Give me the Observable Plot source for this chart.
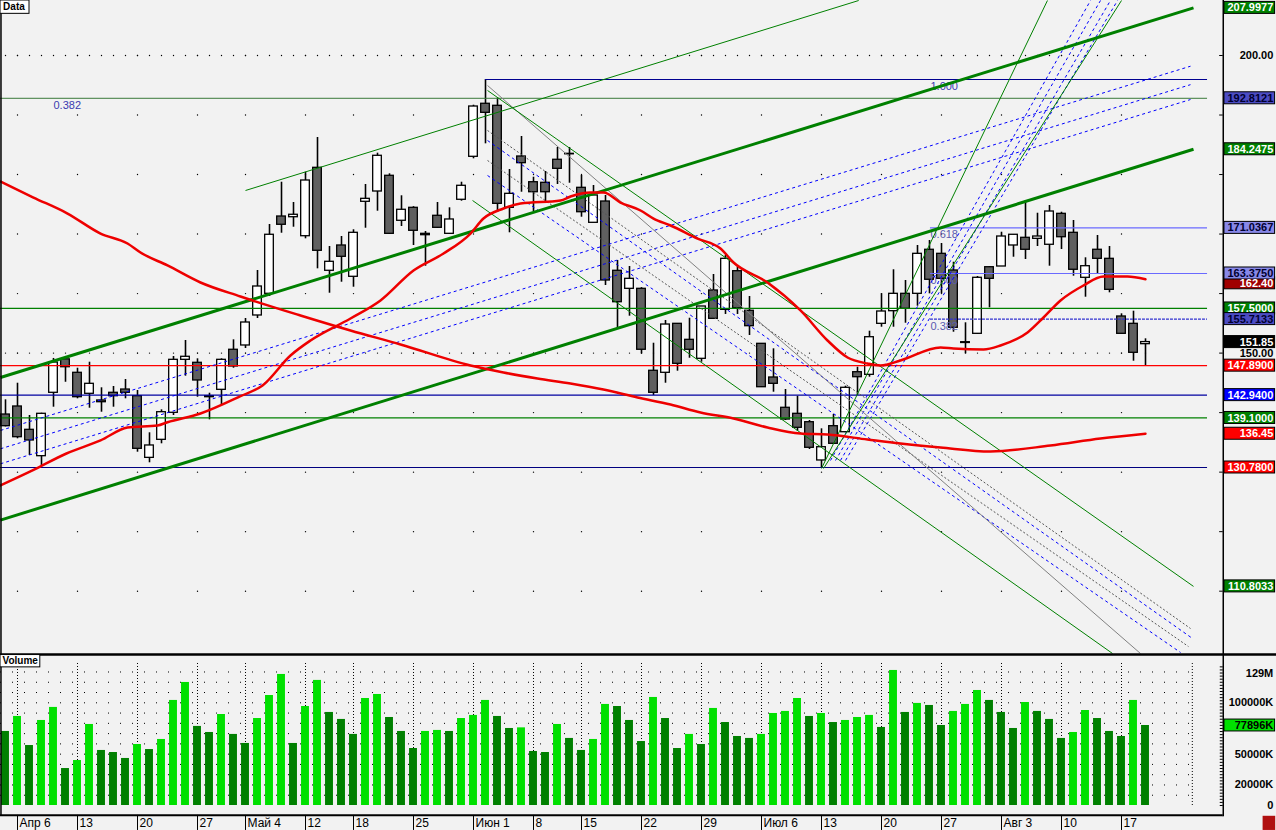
<!DOCTYPE html>
<html>
<head>
<meta charset="utf-8">
<script src="https://cdn.jsdelivr.net/npm/d3@7"></script>
<script src="https://cdn.jsdelivr.net/npm/@observablehq/plot@0.6"></script>
<style>
  html, body { margin: 0; padding: 0; background: #f2f2f2; }
  #chart { width: 1276px; height: 830px; overflow: hidden; }
  #chart svg { display: block; }
</style>
</head>
<body>
<div id="chart"></div>
<script>
// ---------------- DATA ----------------
// daily sessions, index 0 = Apr 3 ... 95 = Aug 19
const openP = [139.68,141.03,137.11,132.68,143.33,148.95,146.69,143.16,142.04,143.33,
143.88,142.76,132.4,135.43,139.97,148.87,148.37,142.76,143.83,150.56,
151.28,156.32,159.96,172.95,172.83,169.64,181.13,163.83,168.08,162.82,
175.42,177.15,179.79,172.23,174.41,170.04,173.07,170.04,175.76,182.98,
191.89,191.55,174.41,183.03,178.71,178.61,182.48,183.48,177.77,171.89,
175.47,163.83,160.8,160.8,147.03,146.69,154.92,152.23,149.04,160.52,
157.27,163.76,157.11,151.56,145.9,140.81,139.8,138.39,131.96,137.72,
136.71,146.79,146.35,154.92,157.04,159.96,159.96,167.36,166.68,163.88,
151.83,153.24,164.43,164.55,168.08,169.37,169.2,168.2,173.4,170.21,
162.65,167.36,165.84,156.15,154.92,151.5];
const highP = [142.15,144.94,139.52,139.9,149.1,149.1,147.46,148.47,144.17,144.39,
145.56,143.72,136.61,140.47,149.43,152.12,149.04,143.26,149.04,152.23,
155.81,163.88,171.61,178.71,175.3,180.39,186.22,167.91,169.59,170.72,
178.33,183.59,180.12,176.43,174.6,170.43,175.3,174.41,178.71,191.65,
195.97,192.83,180.85,186.39,179.55,180.51,184.54,184.54,179.84,178.16,
176.48,165.56,164.55,161.0,151.66,155.48,154.97,155.86,157.83,163.21,
166.4,164.43,159.51,151.61,150.72,143.88,142.76,138.68,137.28,139.68,
144.44,147.63,153.68,159.96,164.0,162.2,168.08,168.92,168.41,165.27,
155.09,162.87,164.55,170.31,169.93,175.64,173.5,174.8,173.67,172.28,
166.01,169.76,167.91,156.6,157.04,152.4];
const lowP = [137.6,135.6,132.8,131.12,140.91,145.1,142.32,140.74,140.07,140.91,
142.32,133.35,131.57,134.76,139.52,146.12,142.59,138.79,141.36,147.46,
150.77,155.81,159.51,170.14,171.15,169.2,164.16,160.06,161.91,161.07,
170.98,173.84,169.93,171.27,168.08,164.6,170.93,169.93,175.52,182.64,
185.16,173.67,170.21,177.03,173.79,175.35,178.33,178.54,172.83,171.89,
161.36,154.18,156.2,149.88,142.88,144.94,146.96,149.14,148.47,155.76,
156.49,156.49,152.96,144.22,143.43,138.68,136.88,133.8,130.78,134.64,
136.61,142.88,145.95,154.35,154.35,155.02,157.88,159.96,159.96,153.51,
149.88,153.13,157.61,164.55,166.11,165.73,167.91,164.6,167.41,162.92,
159.39,163.21,160.13,153.24,148.64,147.92];
const closeP = [137.72,135.87,135.32,139.8,148.42,147.63,142.59,144.84,141.75,142.76,
143.33,133.92,134.48,140.07,148.87,149.38,145.4,142.59,148.87,147.75,
155.14,161.19,169.88,171.56,173.24,179.0,167.19,165.34,166.18,170.21,
175.92,183.15,170.04,174.08,170.55,169.81,171.05,172.45,178.11,191.43,
190.37,175.08,176.76,181.91,177.03,177.03,180.96,183.4,173.67,176.48,
162.2,158.55,162.48,150.56,143.33,154.8,148.2,150.56,157.83,155.76,
165.84,157.54,154.52,144.27,144.84,138.84,137.45,134.09,134.19,134.76,
144.17,145.95,152.67,156.99,159.96,157.44,166.68,162.32,162.48,154.25,
151.7,162.65,162.48,169.59,169.88,167.36,169.59,173.79,169.47,164.0,
164.6,165.84,160.63,153.24,150.05,151.85];
// volume, millions
const volumeM = [72.1,86.7,58.4,82.8,95.5,36.0,43.8,78.9,53.6,51.6,
45.8,59.4,54.5,64.3,102.3,119.8,77.0,71.1,88.6,69.2,
60.4,84.7,107.1,127.6,60.4,96.4,121.8,90.6,83.8,69.2,
104.2,108.1,85.7,72.1,55.5,72.1,73.1,72.1,84.7,87.7,
102.3,86.7,75.0,75.6,52.6,51.6,78.9,65.3,53.6,64.3,
98.4,96.4,82.8,62.3,105.2,84.7,55.5,69.2,59.4,94.5,
80.8,67.2,65.3,69.2,89.6,91.6,104.2,86.7,89.6,80.8,
82.8,85.7,87.7,76.0,131.5,90.6,99.4,97.4,77.9,91.6,
98.4,112.0,102.3,90.6,75.0,100.3,91.6,83.8,65.3,71.1,
92.5,84.7,72.1,67.2,102.3,77.896];

// moving averages: [session, price]
const maFast = [[-0.42,127.76],[2.25,130.28],[5.08,133.13],[7.92,135.32],[10.17,137.5],[12.67,137.84],[13.5,138.39],[16.25,139.85],[19.58,142.76],[21.42,144.56],[23.75,149.6],[25.42,152.12],[28.75,155.81],[31.25,158.84],[34,163.88],[36.5,166.73],[38.75,170.09],[39.83,172.61],[41.5,174.29],[42.92,175.13],[46.25,175.64],[47.08,176.31],[48.75,176.98],[49.83,176.98],[51.25,175.3],[52.92,173.96],[54,172.61],[55.42,171.44],[57.67,169.25],[59.58,167.57],[60.67,165.22],[63.5,161.86],[66.25,157.16],[68.5,152.12],[70.17,149.26],[71.83,148.25],[72.92,147.92],[74.58,148.76],[77.92,150.94],[79,150.77],[81.5,150.6],[82.92,151.28],[85.17,153.46],[86.5,155.98],[87.92,158.84],[89.83,161.36],[91.5,162.87],[93.5,162.87],[95,162.40]];
const maSlow = [[-0.42,178.83],[2.33,176.14],[5.17,173.45],[7.92,170.09],[10.17,168.41],[11.25,166.9],[13.5,164.72],[16.25,161.86],[19.58,159.51],[24.58,156.32],[28.75,153.8],[32.92,151.45],[38.75,147.92],[41.5,146.74],[44.33,145.73],[47.08,144.89],[49.83,143.88],[52.67,142.54],[55.42,141.36],[57.92,140.02],[60.67,139.01],[63.5,137.5],[66.25,136.49],[68.5,136.32],[71.83,135.48],[74.58,134.81],[77.92,134.14],[82.08,133.47],[87.08,134.48],[91.25,135.65],[95,136.45]];

// drawn studies: [session1, price1, session2, price2]
const channelThick = [[-0.42,145.9,99.0,207.9977],[-0.42,121.94,99.0,184.2475]];
const greenThin = [[20,177.32,71.1,209.24],[40.17,194.12,99.0,110.8033],[38.92,175.64,92.25,99.53],[68.0,130.61,86.83,209.24],[68.17,130.61,93.0,209.24]];
const grayThin = [[40.17,194.96,94.58,99.53]];
const blueDashUp = [[-0.42,137.0,98.75,198.2],[-0.42,133.92,98.75,195.1],[-0.42,131.40,98.75,192.6]];
const grayDashDown = [[40.17,187.4,98.75,103.73],[40.17,182.36,98.58,100.7]];
const blueDashDown = [[40.17,185.72,98.92,102.05],[40.17,179.84,97.92,99.7]];
const blueDashFan = [[68.75,131.96,90.42,209.24],[69.17,131.96,91.25,209.24],[69.58,131.96,92.08,209.24],[70,131.96,92.67,209.24]];

// horizontal levels
const hLevels = [157.5, 147.89, 142.94, 139.1, 130.78];
const fibTop = 195.97;
const fibLeftLevel = 192.8121;
const fibLevels = [171.0367, 163.375, 155.7133];
const fibTexts = ["0.618", "0.500", "0.382"];

// right axis labels
const priceLabelVals = [207.9977, 200, 192.8121, 184.2475, 171.0367, 162.40, 163.375, 157.5, 155.7133, 151.85, 150, 147.89, 142.94, 139.1, 136.45, 130.78, 110.8033];
const priceLabelTexts = ["207.9977","200.00","192.8121","184.2475","171.0367","162.40","163.3750","157.5000","155.7133","151.85","150.00","147.8900","142.9400","139.1000","136.45","130.7800","110.8033"];
const priceTicks = d3.range(110, 201, 10);
const volLabelVals = [129, 100, 77.896, 50, 20, 0];
const volLabelTexts = ["129M", "100000K", "77896K", "50000K", "20000K", "0"];

// date axis
const tickSessions = [1,6,11,16,20,25,29,34,39,44,48,53,58,63,68,73,78,83,88,93];
const tickLabels = ["Апр 6","13","20","27","Май 4","12","18","25","Июн 1","8","15","22","29","Июл 6","13","20","27","Авг 3","10","17"];

// ---------------- STYLE / LAYOUT ----------------
const W = 1276, H1 = 653, H2 = 177;
const PX_PER_UNIT = 5.952;
const xDomain = [-5/12, (W - 5)/12];
const priceDomain = [99.529, 209.2406];
const volDomain = [-24.343, 148.004];
const AXIS_K = 101.48, END_K = 100.17, BOX_K1 = 101.58, BOX_K2 = 105.8;
const labelBg = ["#008000", null, "#4c4cc4", "#008000", "#8888e8", "#a00000", "#8888e8", "#008000", "#4c4cc4", "#000000", null, "#ff0000", "#0000ff", "#008000", "#ff0000", "#ff0000", "#008000"];
const labelFg = ["#fff", "#000", "#000030", "#fff", "#000030", "#fff", "#000030", "#fff", "#000030", "#fff", "#000", "#fff", "#fff", "#fff", "#fff", "#fff", "#fff"];
// vertical pixel offset of box/text (the 162.40 box sits just under 163.3750)
const labelShift = [0, 0, 0, 0, 0, 4, 0, 0, 0, 0, 0, 0, 0, 0, 0, 0, 0];
const hColors = ["#008000", "#ff0000", "#0000a0", "#008000", "#000080"];
const FONT = "Liberation Sans, Arial, sans-serif";

const candles = openP.map((o, i) => ({i, o, h: highP[i], l: lowP[i], c: closeP[i]}));
const vols = volumeM.map((v, i) => ({i, v, up: i > 0 && v > volumeM[i - 1]}));
const segs = a => a.map(([k1, p1, k2, p2]) => ({k1, p1, k2, p2}));
const pts = a => a.map(([k, p]) => ({k, p}));
const gridPts = tickSessions.flatMap(k => priceTicks.map(p => ({k, p})));
const sessions = d3.range(96);
const priceLabels = priceLabelVals.map((v, j) => ({v: v - labelShift[j] / PX_PER_UNIT, t: priceLabelTexts[j], bg: labelBg[j], fg: labelFg[j]}));
const boxed = priceLabels.filter(d => d.bg);
const boxH = 6 / PX_PER_UNIT;

const linkOf = (data, o) => Plot.link(segs(data), {x1: "k1", y1: "p1", x2: "k2", y2: "p2", ...o});

const price = Plot.plot({
  width: W, height: H1, margin: 0,
  x: {domain: xDomain, axis: null},
  y: {domain: priceDomain, axis: null},
  color: {type: "identity"},
  style: {background: "#f2f2f2", fontFamily: FONT, overflow: "visible"},
  marks: [
    // dotted grid
    Plot.dot(gridPts, {x: "k", y: "p", r: 0.7, fill: "#000"}),
    Plot.dot(sessions, {x: d => d, y: 150, r: 0.7, fill: "#000"}),
    Plot.dot(sessions, {x: d => d, y: 200, r: 0.7, fill: "#000"}),
    // candles
    Plot.ruleX(candles, {x: "i", y1: "l", y2: "h", stroke: "#000", strokeWidth: 1.6}),
    Plot.rect(candles, {x1: d => d.i - 0.36, x2: d => d.i + 0.36, y1: d => Math.min(d.o, d.c), y2: d => Math.max(d.o, d.c),
      fill: d => d.c >= d.o ? "#ffffff" : "#606060", stroke: "#000", strokeWidth: 1.3}),
    // horizontal levels
    Plot.ruleY(hLevels, {y: d => d, x1: xDomain[0], x2: END_K, stroke: (d, j) => hColors[j], strokeWidth: 1.2}),
    Plot.ruleY([fibLeftLevel], {y: d => d, x1: xDomain[0], x2: END_K, stroke: "#3a7a3a", strokeWidth: 1}),
    Plot.ruleY([fibTop], {y: d => d, x1: 40, x2: END_K, stroke: "#000090", strokeWidth: 1.2}),
    Plot.ruleY(fibLevels.slice(0, 2), {y: d => d, x1: 77.08, x2: END_K, stroke: "#6a6aff", strokeWidth: 1.2}),
    Plot.ruleY(fibLevels.slice(2), {y: d => d, x1: 77.08, x2: END_K, stroke: "#3030d0", strokeWidth: 1.2, strokeDasharray: "3,1"}),
    Plot.text(fibTexts, {x: 77.08, y: (d, j) => fibLevels[j], text: d => d, dy: 7, textAnchor: "start", fill: "#5a5ab0", fontSize: 11}),
    Plot.text(["1.000"], {x: 77.08, y: fibTop, text: d => d, dy: 7, textAnchor: "start", fill: "#3a3ab0", fontSize: 11}),
    Plot.text(["0.382"], {x: 4, y: fibLeftLevel, text: d => d, dy: 7, textAnchor: "start", fill: "#3a3ab0", fontSize: 11}),
    // trend studies
    linkOf(blueDashUp, {stroke: "#0000ff", strokeWidth: 1, strokeDasharray: "3,3"}),
    linkOf(grayDashDown, {stroke: "#555", strokeWidth: 1, strokeDasharray: "2,2"}),
    linkOf(blueDashDown, {stroke: "#0000ff", strokeWidth: 1, strokeDasharray: "3,3"}),
    linkOf(blueDashFan, {stroke: "#0000ff", strokeWidth: 1, strokeDasharray: "3,3"}),
    linkOf(grayThin, {stroke: "#808080", strokeWidth: 1}),
    linkOf(greenThin, {stroke: "#008000", strokeWidth: 1}),
    linkOf(channelThick, {stroke: "#008000", strokeWidth: 3}),
    // moving averages
    Plot.line(pts(maSlow), {x: "k", y: "p", stroke: "#ee0000", strokeWidth: 2.5, curve: "monotone-x"}),
    Plot.line(pts(maFast), {x: "k", y: "p", stroke: "#ee0000", strokeWidth: 2.5, curve: "monotone-x"}),
    // right axis
    Plot.ruleX([AXIS_K], {x: d => d, stroke: "#000", strokeWidth: 1.5}),
    Plot.ruleX([xDomain[0] + 0.04], {x: d => d, stroke: "#000", strokeWidth: 1.5}),
    Plot.ruleY(priceTicks, {y: d => d, x1: AXIS_K - 0.3, x2: AXIS_K, stroke: "#000"}),
    Plot.rect(boxed, {x1: BOX_K1, x2: BOX_K2, y1: d => d.v - boxH, y2: d => d.v + boxH, fill: "bg", stroke: "#000", strokeWidth: 1}),
    Plot.text(priceLabels, {x: BOX_K2 - 0.15, y: "v", text: "t", fill: "fg", textAnchor: "end", fontWeight: "bold", fontSize: 11}),
    // panel tag
    Plot.rect([0], {x1: xDomain[0], x2: 2.0, y1: 207.0, y2: priceDomain[1], fill: "#fff", stroke: "#000"}),
    Plot.text(["Data"], {x: -0.2, y: 208.1, text: d => d, textAnchor: "start", fontWeight: "bold", fontSize: 10, fill: "#000"})
  ]
});

const vol = Plot.plot({
  width: W, height: H2, margin: 0,
  x: {domain: xDomain, axis: null},
  y: {domain: volDomain, axis: null},
  color: {type: "identity"},
  style: {background: "#f2f2f2", fontFamily: FONT, overflow: "visible"},
  marks: [
    // grid
    Plot.ruleY(d3.range(10, 140, 10), {y: d => d, x1: xDomain[0], x2: 98.9, stroke: "#000", strokeDasharray: "1,11", strokeWidth: 1}),
    Plot.ruleX(tickSessions, {x: d => d, y1: 0, y2: 140, stroke: "#000", strokeDasharray: "1,2", strokeWidth: 1}),
    Plot.ruleX([98.9], {x: d => d, y1: 0, y2: 140, stroke: "#000", strokeDasharray: "1,2", strokeWidth: 1}),
    // volume bars
    Plot.rect(vols, {x1: d => d.i - 0.33, x2: d => d.i + 0.33, y1: 0, y2: "v", fill: d => d.up ? "#00e000" : "#008000"}),
    // frame lines
    Plot.ruleY([147.0], {y: d => d, stroke: "#000", strokeWidth: 2.5}),
    Plot.ruleY([-9.5], {y: d => d, x1: xDomain[0], x2: AXIS_K, stroke: "#000", strokeWidth: 2}),
    Plot.ruleX([AXIS_K], {x: d => d, y1: -11, y2: 148, stroke: "#000", strokeWidth: 1.5}),
    Plot.ruleX([xDomain[0] + 0.04], {x: d => d, y1: -10, y2: 148, stroke: "#000", strokeWidth: 1.5}),
    // volume axis
    Plot.ruleY(d3.range(0, 136, 3), {y: d => d, x1: AXIS_K - 0.25, x2: AXIS_K, stroke: "#000"}),
    Plot.rect([77.896], {x1: BOX_K1, x2: BOX_K2, y1: d => d - 5.8, y2: d => d + 5.8, fill: "#00e000", stroke: "#000"}),
    Plot.text(volLabelVals, {x: BOX_K2 - 0.15, y: d => d, text: (d, j) => volLabelTexts[j], textAnchor: "end", fontWeight: "bold", fontSize: 11, fill: "#000"}),
    // date axis
    Plot.ruleX(tickSessions, {x: d => d, y1: -9.7, y2: -24.3, stroke: "#000", strokeWidth: 1}),
    Plot.text(tickSessions, {x: d => d, y: -17.2, text: (d, j) => tickLabels[j], textAnchor: "start", dx: 2, fontSize: 12, fill: "#000"}),
    // panel tag
    Plot.rect([0], {x1: xDomain[0], x2: 2.9, y1: 134.5, y2: 146.5, fill: "#fff", stroke: "#000"}),
    Plot.text(["Volume"], {x: -0.25, y: 140.5, text: d => d, textAnchor: "start", fontWeight: "bold", fontSize: 10, fill: "#000"}),
    // corner icon
    Plot.rect([0], {x1: 104.8, x2: 105.85, y1: -10.5, y2: -24.3, fill: "#b01010"})
  ]
});

const root = document.getElementById("chart");
root.appendChild(price);
root.appendChild(vol);
</script>
</body>
</html>
